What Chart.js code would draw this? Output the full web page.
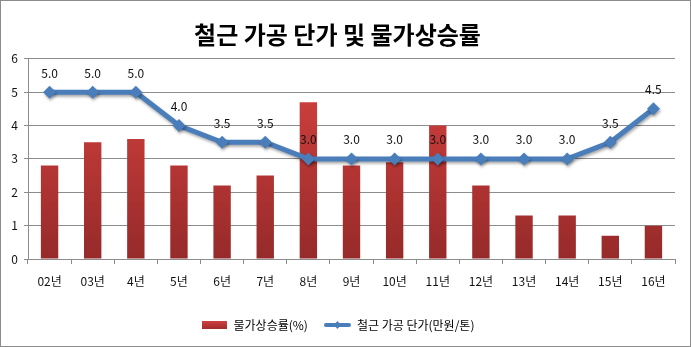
<!DOCTYPE html>
<html>
<head>
<meta charset="utf-8">
<script src="https://cdn.jsdelivr.net/npm/chart.js@4"></script>
<style>
  html, body { margin: 0; padding: 0; background: #fff; }
  #chart { display: block; }
</style>
</head>
<body>
<canvas id="chart" width="691" height="347"></canvas>
<script>
const years = ["02년", "03년", "4년", "5년", "6년", "7년", "8년", "9년", "10년", "11년", "12년", "13년", "14년", "15년", "16년"];
const inflation = [2.8, 3.5, 3.6, 2.8, 2.2, 2.5, 4.7, 2.8, 2.9, 4.0, 2.2, 1.3, 1.3, 0.7, 1.0];
const rebar_price = [5.0, 5.0, 5.0, 4.0, 3.5, 3.5, 3.0, 3.0, 3.0, 3.0, 3.0, 3.0, 3.0, 3.5, 4.5];
const y_ticks = [0, 1, 2, 3, 4, 5, 6];

const font_name = "'Noto Sans CJK KR', 'Noto Sans', sans-serif";
const line_color = "#4a7ebb";

function bar_gradient(ctx, area)
{
    const g = ctx.createLinearGradient(0, area.top, 0, area.bottom);
    g.addColorStop(0, "#d8433f");
    g.addColorStop(1, "#962a2a");
    return g;
}

// legend swatches
const bar_swatch = document.createElement("canvas");
bar_swatch.width = 25; bar_swatch.height = 8;
{
    const c = bar_swatch.getContext("2d");
    const g = c.createLinearGradient(0, 0, 0, 8);
    g.addColorStop(0, "#d04040");
    g.addColorStop(1, "#a02c2c");
    c.fillStyle = g;
    c.fillRect(0, 0, 25, 8);
}
const line_swatch = document.createElement("canvas");
line_swatch.width = 27; line_swatch.height = 10;
{
    const c = line_swatch.getContext("2d");
    c.strokeStyle = line_color;
    c.lineWidth = 4;
    c.lineCap = "round";
    c.beginPath(); c.moveTo(2, 5); c.lineTo(25, 5); c.stroke();
    c.fillStyle = line_color;
    c.beginPath(); c.moveTo(13.5, 1); c.lineTo(17, 5); c.lineTo(13.5, 9); c.lineTo(10, 5); c.closePath(); c.fill();
}

const frame_plugin =
{
    id: "frame",
    afterDraw(chart)
    {
        const ctx = chart.ctx;
        ctx.save();
        ctx.strokeStyle = "#8c8c8c";
        ctx.lineWidth = 1;
        ctx.strokeRect(0.5, 0.5, chart.width - 1, chart.height - 1);
        ctx.restore();
    }
};

const value_label_plugin =
{
    id: "value_labels",
    afterDatasetsDraw(chart)
    {
        const ctx = chart.ctx;
        const meta = chart.getDatasetMeta(1);
        ctx.save();
        ctx.font = "12px " + font_name;
        ctx.fillStyle = "#111";
        ctx.textAlign = "center";
        ctx.textBaseline = "middle";
        meta.data.forEach((pt, i) =>
        {
            ctx.fillText(rebar_price[i].toFixed(1), pt.x, pt.y - 19);
        });
        ctx.restore();
    }
};

const line_shadow_plugin =
{
    id: "line_shadow",
    beforeDatasetDraw(chart, args)
    {
        if (args.index !== 1) return;
        const ctx = chart.ctx;
        ctx.save();
        ctx.shadowColor = "rgba(0,0,0,0.35)";
        ctx.shadowBlur = 3;
        ctx.shadowOffsetX = 1;
        ctx.shadowOffsetY = 2;
    },
    afterDatasetDraw(chart, args)
    {
        if (args.index !== 1) return;
        chart.ctx.restore();
    }
};

const chart = new Chart("chart",
{
    data:
    {
        labels: years,
        datasets:
        [
            {
                type: "bar",
                label: "물가상승률(%)",
                data: inflation,
                backgroundColor: (c) =>
                {
                    const area = c.chart.chartArea;
                    if (!area) return "#c03a38";
                    return bar_gradient(c.chart.ctx, area);
                },
                barPercentage: 0.62,
                categoryPercentage: 0.65,
                order: 2
            },
            {
                type: "line",
                label: "철근 가공 단가(만원/톤)",
                data: rebar_price,
                borderColor: line_color,
                backgroundColor: line_color,
                borderWidth: 5,
                pointStyle: "rectRot",
                pointRadius: 6.5,
                pointHoverRadius: 6.5,
                pointBorderWidth: 0,
                tension: 0,
                order: 1
            }
        ]
    },
    options:
    {
        responsive: false,
        animation: false,
        layout:
        {
            padding: { left: 0, right: 16, top: 0, bottom: 6 }
        },
        plugins:
        {
            title:
            {
                display: true,
                text: "철근 가공 단가 및 물가상승률",
                color: "#000",
                font: { family: font_name, size: 24, weight: "bold" },
                padding: { top: 20, bottom: 10 }
            },
            legend:
            {
                position: "bottom",
                labels:
                {
                    color: "#000",
                    font: { family: font_name, size: 12 },
                    usePointStyle: true,
                    pointStyleWidth: 27,
                    boxHeight: 10,
                    padding: 16,
                    sort: (a, b) => a.datasetIndex - b.datasetIndex,
                    generateLabels(chart)
                    {
                        const items = Chart.defaults.plugins.legend.labels.generateLabels(chart);
                        items.forEach(item =>
                        {
                            item.pointStyle = item.datasetIndex === 0 ? bar_swatch : line_swatch;
                        });
                        return items;
                    }
                }
            },
            tooltip: { enabled: false }
        },
        scales:
        {
            x:
            {
                grid:
                {
                    drawOnChartArea: false,
                    drawTicks: true,
                    tickLength: 5,
                    color: "#8c8c8c"
                },
                border: { color: "#8c8c8c" },
                ticks:
                {
                    color: "#111",
                    font: { family: font_name, size: 12 },
                    padding: 10,
                    maxRotation: 0
                },
                afterFit(scale) { scale.height = 44; }
            },
            y:
            {
                min: 0,
                max: 6,
                afterBuildTicks(scale) { scale.ticks = y_ticks.map(v => ({ value: v })); },
                grid:
                {
                    color: "#8c8c8c",
                    tickLength: 4
                },
                border: { color: "#8c8c8c" },
                ticks:
                {
                    color: "#111",
                    font: { family: font_name, size: 12 },
                    padding: 6
                },
                afterFit(scale) { scale.width = 28; }
            }
        }
    },
    plugins: [frame_plugin, value_label_plugin, line_shadow_plugin]
});
</script>
</body>
</html>
